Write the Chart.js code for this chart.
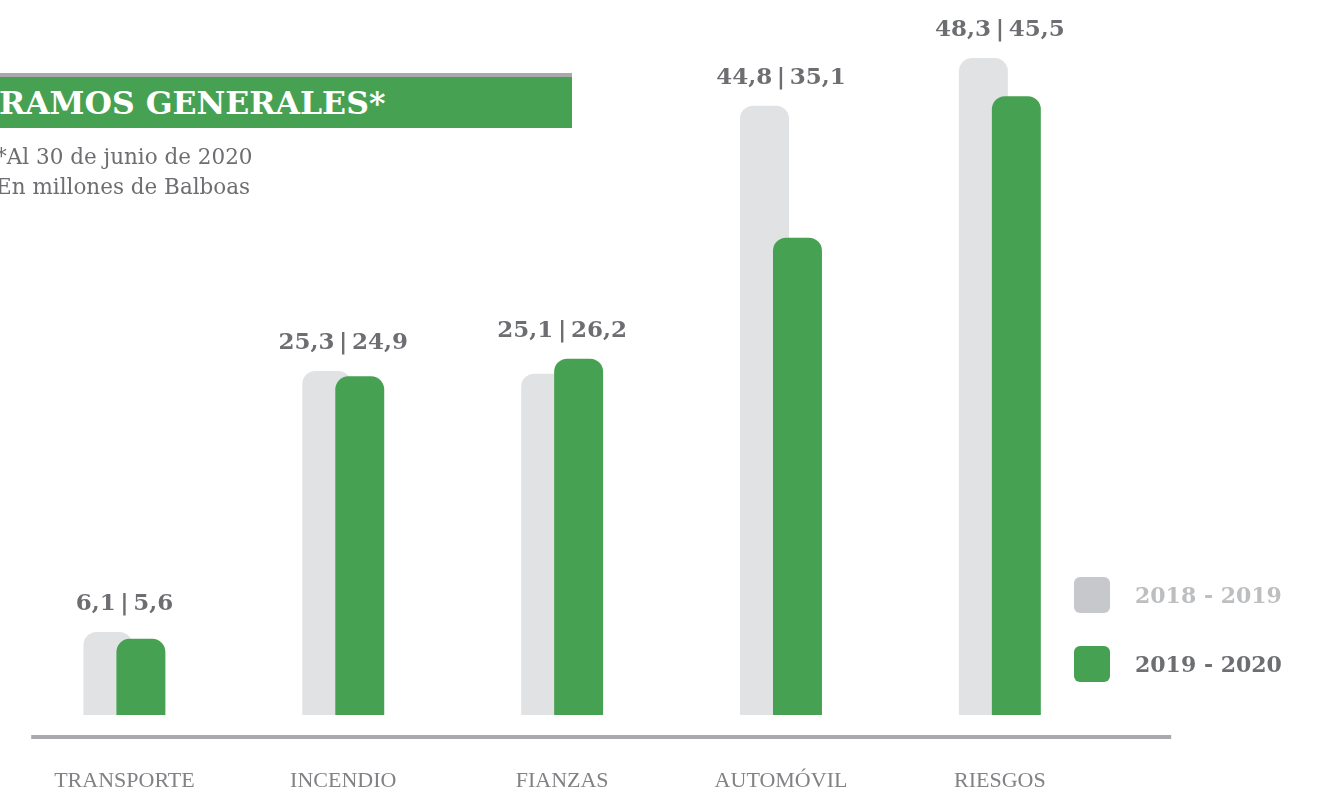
<!DOCTYPE html>
<html lang="es">
<head>
<meta charset="utf-8">
<title>Ramos generales</title>
<script src="https://cdn.jsdelivr.net/npm/chart.js@4.4.1/dist/chart.umd.min.js"></script>
<style>
    html, body {
        margin: 0;
        padding: 0;
        background: #ffffff;
        overflow: hidden;
    }
    #lienzo {
        position: relative;
        width: 1318px;
        height: 795px;
        overflow: hidden;
    }
    #grafico {
        position: absolute;
        left: 0;
        top: 0;
    }
    .titulo-linea {
        position: absolute;
        left: 0;
        top: 73px;
        width: 572px;
        height: 4px;
        background: #A7A9AC;
    }
    .titulo {
        position: absolute;
        left: 0;
        top: 77px;
        width: 572px;
        height: 51px;
        background: #47A152;
        color: #ffffff;
        font: bold 31.5px "DejaVu Serif", serif;
        line-height: 51px;
        white-space: nowrap;
        text-indent: -1px;
    }
    .subtitulo {
        position: absolute;
        left: -4px;
        top: 142px;
        color: #6D6E71;
        font: 21.5px "DejaVu Serif", serif;
        line-height: 30px;
        white-space: nowrap;
    }
    .leyenda {
        position: absolute;
        left: 1074px;
        top: 577px;
    }
    .leyenda-item {
        display: flex;
        align-items: center;
        height: 36px;
        margin-bottom: 33px;
        font: bold 22px "DejaVu Serif", serif;
        white-space: nowrap;
    }
    .leyenda-caja {
        width: 36px;
        height: 36px;
        border-radius: 6px;
        margin-right: 25px;
    }
</style>
</head>
<body>
<div id="lienzo">
    <canvas id="grafico" width="1318" height="795"></canvas>
    <div class="titulo-linea"></div>
    <div class="titulo">RAMOS GENERALES*</div>
    <div class="subtitulo">*Al 30 de junio de 2020<br>En millones de Balboas</div>
    <div class="leyenda" id="leyenda"></div>
</div>

<script>
// Datos del grafico
const ramos = ['TRANSPORTE', 'INCENDIO', 'FIANZAS', 'AUTOMÓVIL', 'RIESGOS'];
const periodo2018 = [6.1, 25.3, 25.1, 44.8, 48.3];
const periodo2019 = [5.6, 24.9, 26.2, 35.1, 45.5];
const periodos = ['2018 - 2019', '2019 - 2020'];

const GRIS_BARRA = '#E1E2E4';
const VERDE = '#47A152';
const GRIS_TEXTO = '#6D6E71';

// Formato con coma decimal
function formatoValor(v) {
    return v.toFixed(1).replace('.', ',');
}

// Dibuja la barra gris antes que la verde (para que quede detras)
const ordenDibujo = {
    id: 'ordenDibujo',
    beforeDatasetsDraw(chart) {
        const meta = chart.getDatasetMeta(0);
        if (!meta.hidden) meta.controller.draw();
    },
    beforeDatasetDraw(chart, args) {
        if (args.index === 0) return false;
    }
};

// Etiquetas de valor y linea base
const etiquetasValor = {
    id: 'etiquetasValor',
    afterDatasetsDraw(chart) {
        const ctx = chart.ctx;
        const meta0 = chart.getDatasetMeta(0);
        const meta1 = chart.getDatasetMeta(1);
        ctx.save();
        ctx.font = 'bold 23px "DejaVu Serif", serif';
        ctx.fillStyle = GRIS_TEXTO;
        ctx.textAlign = 'center';
        ctx.textBaseline = 'alphabetic';
        ramos.forEach((r, i) => {
            const a = meta0.data[i];
            const b = meta1.data[i];
            const x = (a.x + b.x) / 2;
            const y = Math.min(a.y, b.y) - 22;
            const texto = formatoValor(periodo2018[i]) + '\u2009|\u2009' + formatoValor(periodo2019[i]);
            ctx.fillText(texto, x, y);
        });
        ctx.restore();
    },
    afterDraw(chart) {
        const { ctx, chartArea } = chart;
        ctx.save();
        ctx.fillStyle = '#A7A9AC';
        ctx.fillRect(chartArea.left + 16.2, chartArea.bottom + 20, 1140, 4);
        ctx.restore();
    }
};

const ctx = document.getElementById('grafico');
new Chart(ctx, {
    type: 'bar',
    data: {
        labels: ramos,
        datasets: [
            {
                label: periodos[0],
                data: periodo2018,
                backgroundColor: GRIS_BARRA,
                borderRadius: { topLeft: 13, topRight: 13, bottomLeft: 0, bottomRight: 0 },
                borderSkipped: false
            },
            {
                label: periodos[1],
                data: periodo2019,
                backgroundColor: VERDE,
                borderRadius: { topLeft: 13, topRight: 13, bottomLeft: 0, bottomRight: 0 },
                borderSkipped: false
            }
        ]
    },
    options: {
        responsive: false,
        animation: false,
        devicePixelRatio: 1,
        categoryPercentage: 0.3012,
        barPercentage: 1.485,
        layout: {
            padding: { left: 13.8, right: 208.7, top: 7.8, bottom: 0 }
        },
        plugins: {
            legend: { display: false },
            tooltip: { enabled: false }
        },
        scales: {
            x: {
                grid: { display: false, drawTicks: false },
                border: { display: false },
                ticks: {
                    color: '#808285',
                    font: { family: '"Liberation Serif", serif', size: 22 },
                    padding: 52.8,
                    maxRotation: 0,
                    autoSkip: false
                },
                afterFit(scale) {
                    scale.height = 80;
                }
            },
            y: {
                display: false,
                min: 0,
                max: 52
            }
        }
    },
    plugins: [ordenDibujo, etiquetasValor]
});

// Leyenda
const coloresLeyenda = [
    { caja: '#C7C8CC', texto: '#BCBEC0' },
    { caja: VERDE, texto: GRIS_TEXTO }
];
document.getElementById('leyenda').innerHTML = periodos.map((p, i) => `
    <div class="leyenda-item">
        <div class="leyenda-caja" style="background:${coloresLeyenda[i].caja}"></div>
        <span style="color:${coloresLeyenda[i].texto}">${p}</span>
    </div>
`).join('');
</script>
</body>
</html>
